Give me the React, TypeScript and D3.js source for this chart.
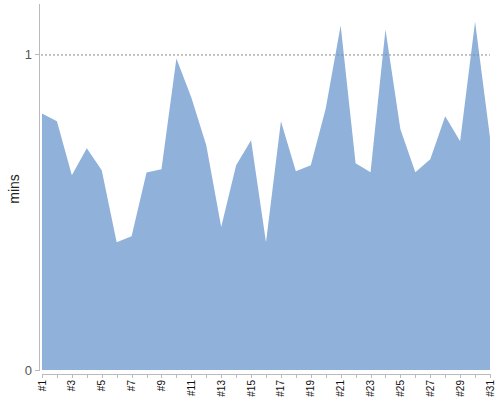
import * as d3 from 'd3';
import { useEffect, useRef } from 'react';

const labels = d3.range(1, 32).map((i) => '#' + i);
const mins = [
  0.813, 0.788, 0.617, 0.703, 0.633, 0.405, 0.424, 0.626, 0.636, 0.987,
  0.864, 0.712, 0.453, 0.649, 0.728, 0.405, 0.788, 0.63, 0.649, 0.829,
  1.092, 0.655, 0.627, 1.079, 0.763, 0.627, 0.668, 0.804, 0.725, 1.104,
  0.737,
];
const yTicks = [0, 1];

function App() {
  const ref = useRef<SVGSVGElement>(null);

  useEffect(() => {
    const w = 500, h = 400;
    const svg = d3.select(ref.current);
    svg.selectAll('*').remove();
    svg.attr('width', w).attr('height', h);

    const x = d3.scalePoint<string>().domain(labels).range([42, 490]);
    const y = d3.scaleLinear().domain([0, 1.16]).range([370, 4]);

    const area = d3.area<number>()
      .x((_, i) => x(labels[i])!)
      .y0(y(0))
      .y1((d) => y(d));

    svg.append('path')
      .datum(mins)
      .attr('d', area)
      .style('fill', '#8fb1da');

    // dashed line at 1
    svg.append('line')
      .attr('x1', 41).attr('x2', 490)
      .attr('y1', y(1) + 0.5).attr('y2', y(1) + 0.5)
      .style('stroke', '#888')
      .style('stroke-dasharray', '2,2');

    // y axis
    svg.append('line')
      .attr('x1', 39.5).attr('x2', 39.5)
      .attr('y1', 4).attr('y2', 371)
      .style('stroke', '#bbb');

    const yt = svg.append('g');
    yt.selectAll('line').data(yTicks).enter().append('line')
      .attr('x1', 35).attr('x2', 39)
      .attr('y1', (d) => Math.round(y(d)) + 0.5)
      .attr('y2', (d) => Math.round(y(d)) + 0.5)
      .style('stroke', '#bbb');
    yt.selectAll('text').data(yTicks).enter().append('text')
      .attr('x', 32)
      .attr('y', (d) => y(d))
      .attr('dy', '0.35em')
      .attr('text-anchor', 'end')
      .style('font-family', 'Liberation Sans, Arial, sans-serif')
      .style('font-size', '13px')
      .style('fill', '#555')
      .text((d) => String(d));

    svg.append('text')
      .attr('transform', 'translate(14,189) rotate(-90)')
      .attr('text-anchor', 'middle')
      .attr('dy', '0.35em')
      .style('font-family', 'Liberation Sans, Arial, sans-serif')
      .style('font-size', '14px')
      .style('fill', '#222')
      .text('mins');

    // x axis
    svg.append('line')
      .attr('x1', 42).attr('x2', 490.5)
      .attr('y1', 374.5).attr('y2', 374.5)
      .style('stroke', '#bbb');

    svg.append('g').selectAll('line').data(labels).enter().append('line')
      .attr('x1', (d) => Math.round(x(d)!) + 0.5)
      .attr('x2', (d) => Math.round(x(d)!) + 0.5)
      .attr('y1', 374).attr('y2', 378)
      .style('stroke', '#bbb');

    svg.append('g').selectAll('text')
      .data(labels.filter((_, i) => i % 2 === 0))
      .enter().append('text')
      .attr('transform', (d) => `translate(${x(d)},380) rotate(-90)`)
      .attr('text-anchor', 'end')
      .attr('dy', '0.35em')
      .style('font-family', 'Liberation Sans, Arial, sans-serif')
      .style('font-size', '10px')
      .style('fill', '#111')
      .text((d) => d);
  }, []);

  return <svg ref={ref} style={{ position: 'absolute', left: 0, top: 0 }} />;
}

export default App;
